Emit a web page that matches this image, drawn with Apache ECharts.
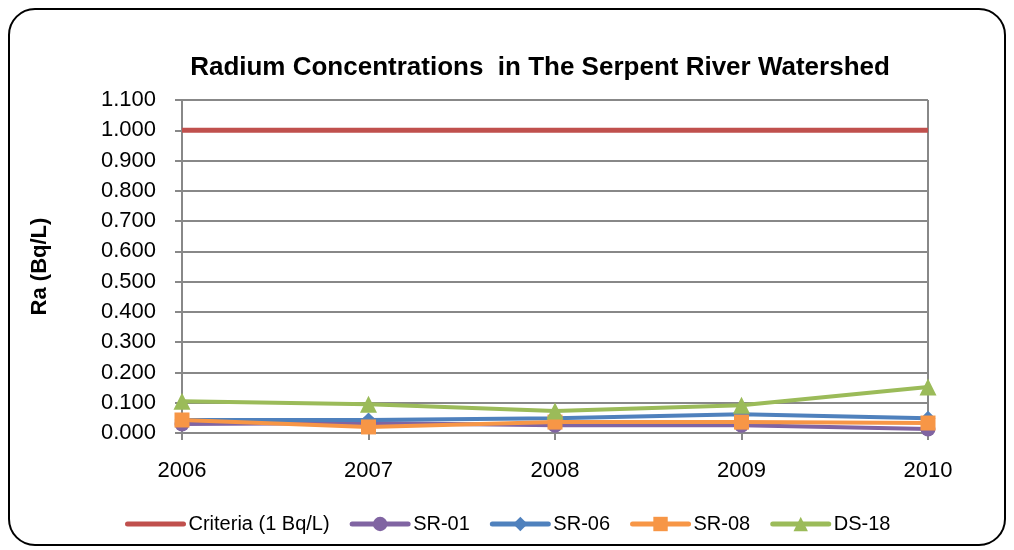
<!DOCTYPE html>
<html>
<head>
<meta charset="utf-8">
<script src="https://cdn.jsdelivr.net/npm/echarts@6/dist/echarts.min.js"></script>
<style>
html, body { margin: 0; padding: 0; background: #fff; }
#main { width: 1014px; height: 550px; }
</style>
</head>
<body>
<div id="main"></div>
<script>
var years = ['2006', '2007', '2008', '2009', '2010'];
var criteria = [1.0, 1.0, 1.0, 1.0, 1.0];
var sr01 = [0.030, 0.033, 0.026, 0.026, 0.013];
var sr06 = [0.043, 0.043, 0.049, 0.062, 0.049];
var sr08 = [0.043, 0.020, 0.036, 0.036, 0.033];
var ds18 = [0.105, 0.095, 0.073, 0.092, 0.152];

var myChart = echarts.init(document.getElementById('main'));

function lineSeries(name, data, color, symbol, size) {
    return {
        name: name,
        type: 'line',
        data: data,
        symbol: symbol,
        symbolSize: size,
        showAllSymbol: true,
        lineStyle: { color: color, width: 4 },
        itemStyle: { color: color },
        emphasis: { disabled: true }
    };
}

var font = 'Liberation Sans, Arial';

var option = {
    animation: false,
    title: {
        text: 'Radium Concentrations  in The Serpent River Watershed',
        left: 535,
        textAlign: 'center',
        top: 50,
        textStyle: { fontFamily: font, fontSize: 26, fontWeight: 'bold', color: '#000' }
    },
    graphic: [{
        type: 'rect',
        shape: { x: 9, y: 9, width: 996, height: 536, r: 26 },
        style: { fill: 'none', stroke: '#000', lineWidth: 2 },
        silent: true
    }],
    legend: {
        top: 509,
        left: 120,
        itemGap: 20,
        itemWidth: 56,
        itemHeight: 18,
        textStyle: { fontFamily: font, fontSize: 20, color: '#000' },
        lineStyle: { width: 5, cap: 'round' },
        data: [
            { name: 'Criteria (1 Bq/L)', itemStyle: { opacity: 0 } },
            'SR-01', 'SR-06', 'SR-08', 'DS-18'
        ]
    },
    grid: { left: 182, right: 86, top: 100, bottom: 117 },
    xAxis: {
        type: 'category',
        data: years,
        boundaryGap: false,
        axisLine: { lineStyle: { color: '#888', width: 2 } },
        axisTick: { show: true, length: 7, lineStyle: { color: '#888', width: 2 } },
        splitLine: {
            show: true,
            interval: function (index) { return index === years.length - 1; },
            lineStyle: { color: '#888', width: 2 }
        },
        axisLabel: { margin: 27, fontFamily: font, fontSize: 22, color: '#000' }
    },
    yAxis: {
        type: 'value',
        min: 0,
        max: 1.1,
        interval: 0.1,
        name: 'Ra (Bq/L)',
        nameLocation: 'middle',
        nameGap: 131,
        nameRotate: 90,
        nameTextStyle: { fontFamily: font, fontSize: 22, fontWeight: 'bold', color: '#000' },
        axisLine: { show: true, lineStyle: { color: '#888', width: 2 } },
        axisTick: { show: true, length: 7, lineStyle: { color: '#888', width: 2 } },
        splitLine: { show: true, lineStyle: { color: '#888', width: 2 } },
        axisLabel: {
            margin: 26,
            fontFamily: font,
            fontSize: 22,
            color: '#000',
            formatter: function (v) { return v.toFixed(3); }
        }
    },
    series: [
        {
            name: 'Criteria (1 Bq/L)',
            type: 'line',
            data: criteria,
            symbol: 'none',
            lineStyle: { color: '#C0504D', width: 5 },
            itemStyle: { color: '#C0504D' },
            emphasis: { disabled: true }
        },
        lineSeries('SR-01', sr01, '#8064A2', 'circle', 15),
        lineSeries('SR-06', sr06, '#4F81BD', 'diamond', 15),
        lineSeries('SR-08', sr08, '#F79646', 'rect', 15),
        lineSeries('DS-18', ds18, '#9BBB59', 'triangle', 17)
    ]
};

myChart.setOption(option);
</script>
</body>
</html>
